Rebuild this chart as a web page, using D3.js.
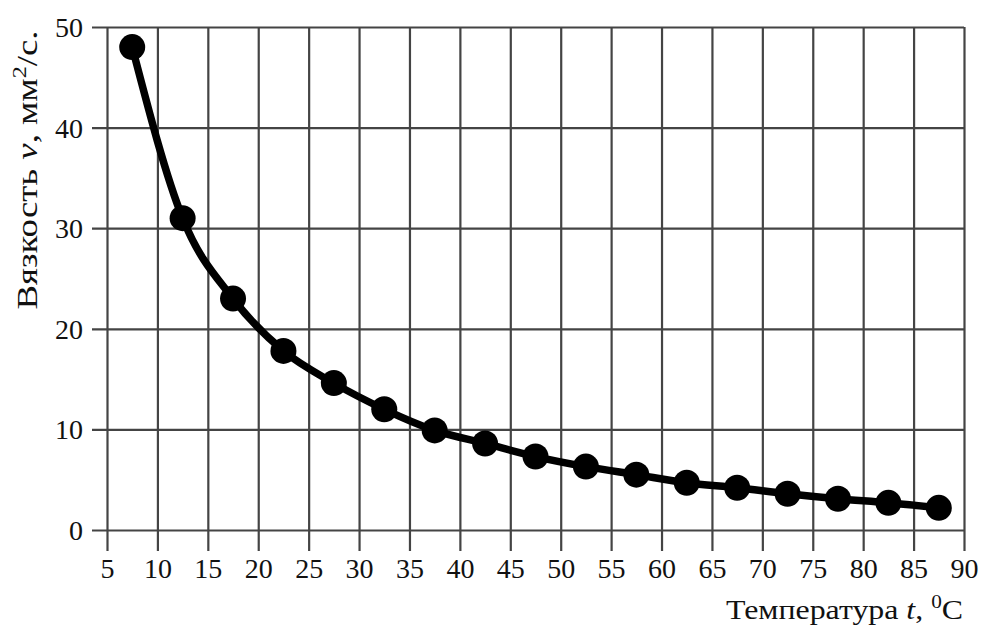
<!DOCTYPE html>
<html>
<head>
<meta charset="utf-8">
<script src="https://cdn.jsdelivr.net/npm/d3@7"></script>
<style>
  body { margin: 0; background: #fff; }
  text { font-family: "Liberation Serif", "DejaVu Serif", serif; fill: #111; }
</style>
</head>
<body>
<svg id="drawing_region"></svg>
<script>
// temperature (°C) and viscosity (mm2/s)
var temps = [7.5, 12.5, 17.5, 22.5, 27.5, 32.5, 37.5, 42.5, 47.5, 52.5, 57.5, 62.5, 67.5, 72.5, 77.5, 82.5, 87.5];
var visc  = [48, 31, 23, 17.8, 14.6, 12, 9.9, 8.6, 7.3, 6.3, 5.5, 4.7, 4.2, 3.6, 3.1, 2.7, 2.2];
var xTicks = d3.range(5, 91, 5);
var yTicks = [0, 10, 20, 30, 40, 50];

var config = {
    width: 981,
    height: 633,
    margin: {top: 27, right: 17, bottom: 103, left: 107}
};

var data = temps.map((t, i) => ({t: t, v: visc[i]}));

var svg = d3.select('#drawing_region')
    .attr('width', config.width)
    .attr('height', config.height);

var chart = svg.append('g')
    .attr('transform', `translate(${config.margin.left}, ${config.margin.top})`);

var inner_width = config.width - config.margin.left - config.margin.right;
var inner_height = config.height - config.margin.top - config.margin.bottom;

var xscale = d3.scaleLinear().domain([5, 90]).range([0, inner_width]);
var yscale = d3.scaleLinear().domain([0, 50]).range([inner_height, 0]);

// vertical grid lines, sticking out below the zero line
var xaxis = d3.axisBottom(xscale)
    .tickValues(xTicks)
    .tickSize(-inner_height)
    .tickSizeOuter(0)
    .tickPadding(0);

var xg = chart.append('g')
    .attr('transform', `translate(0, ${inner_height})`)
    .call(xaxis);
xg.select('.domain').remove();
xg.selectAll('.tick line')
    .attr('y1', 21)
    .attr('stroke', '#444')
    .attr('stroke-width', 2.2);
xg.selectAll('.tick text')
    .attr('y', 48)
    .attr('dy', 0)
    .attr('font-size', '28px')
    .attr('font-family', '"Liberation Serif", serif')
    .attr('fill', '#111');

// horizontal grid lines, sticking out left of the first vertical
var yaxis = d3.axisLeft(yscale)
    .tickValues(yTicks)
    .tickSize(-inner_width)
    .tickSizeOuter(0)
    .tickPadding(0);

var yg = chart.append('g').call(yaxis);
yg.select('.domain').remove();
yg.selectAll('.tick line')
    .attr('x1', -15)
    .attr('stroke', '#444')
    .attr('stroke-width', 2.2);
yg.selectAll('.tick text')
    .attr('x', -24)
    .attr('dy', '0.34em')
    .attr('font-size', '28px')
    .attr('font-family', '"Liberation Serif", serif')
    .attr('fill', '#111');

// curve
var line = d3.line()
    .x(d => xscale(d.t))
    .y(d => yscale(d.v))
    .curve(d3.curveMonotoneX);

chart.append('path')
    .datum(data)
    .attr('d', line)
    .attr('fill', 'none')
    .attr('stroke', '#000')
    .attr('stroke-width', 7.5)
    .attr('stroke-linejoin', 'round');

chart.selectAll('circle')
    .data(data)
    .enter()
    .append('circle')
    .attr('cx', d => xscale(d.t))
    .attr('cy', d => yscale(d.v))
    .attr('r', 13)
    .attr('fill', '#000');

// axis titles (the source font runs wider than Liberation Serif, hence the stretch)
var ylab = svg.append('text')
    .attr('transform', 'translate(37, 170) rotate(-90) scale(1.27, 1)')
    .attr('text-anchor', 'middle')
    .attr('font-size', '29px');
ylab.append('tspan').text('Вязкость ');
ylab.append('tspan').attr('font-style', 'italic').text('ν');
ylab.append('tspan').text(',  мм');
ylab.append('tspan').attr('font-size', '19px').attr('dy', -11).text('2');
ylab.append('tspan').attr('dy', 11).text('/с.');

var xlab = svg.append('text')
    .attr('transform', 'translate(963, 619) scale(1.18, 1)')
    .attr('text-anchor', 'end')
    .attr('font-size', '27px');
xlab.append('tspan').text('Температура ');
xlab.append('tspan').attr('font-style', 'italic').text('t');
xlab.append('tspan').text(', ');
xlab.append('tspan').attr('font-size', '18px').attr('dy', -11).text('0');
xlab.append('tspan').attr('dy', 11).text('C');
</script>
</body>
</html>
